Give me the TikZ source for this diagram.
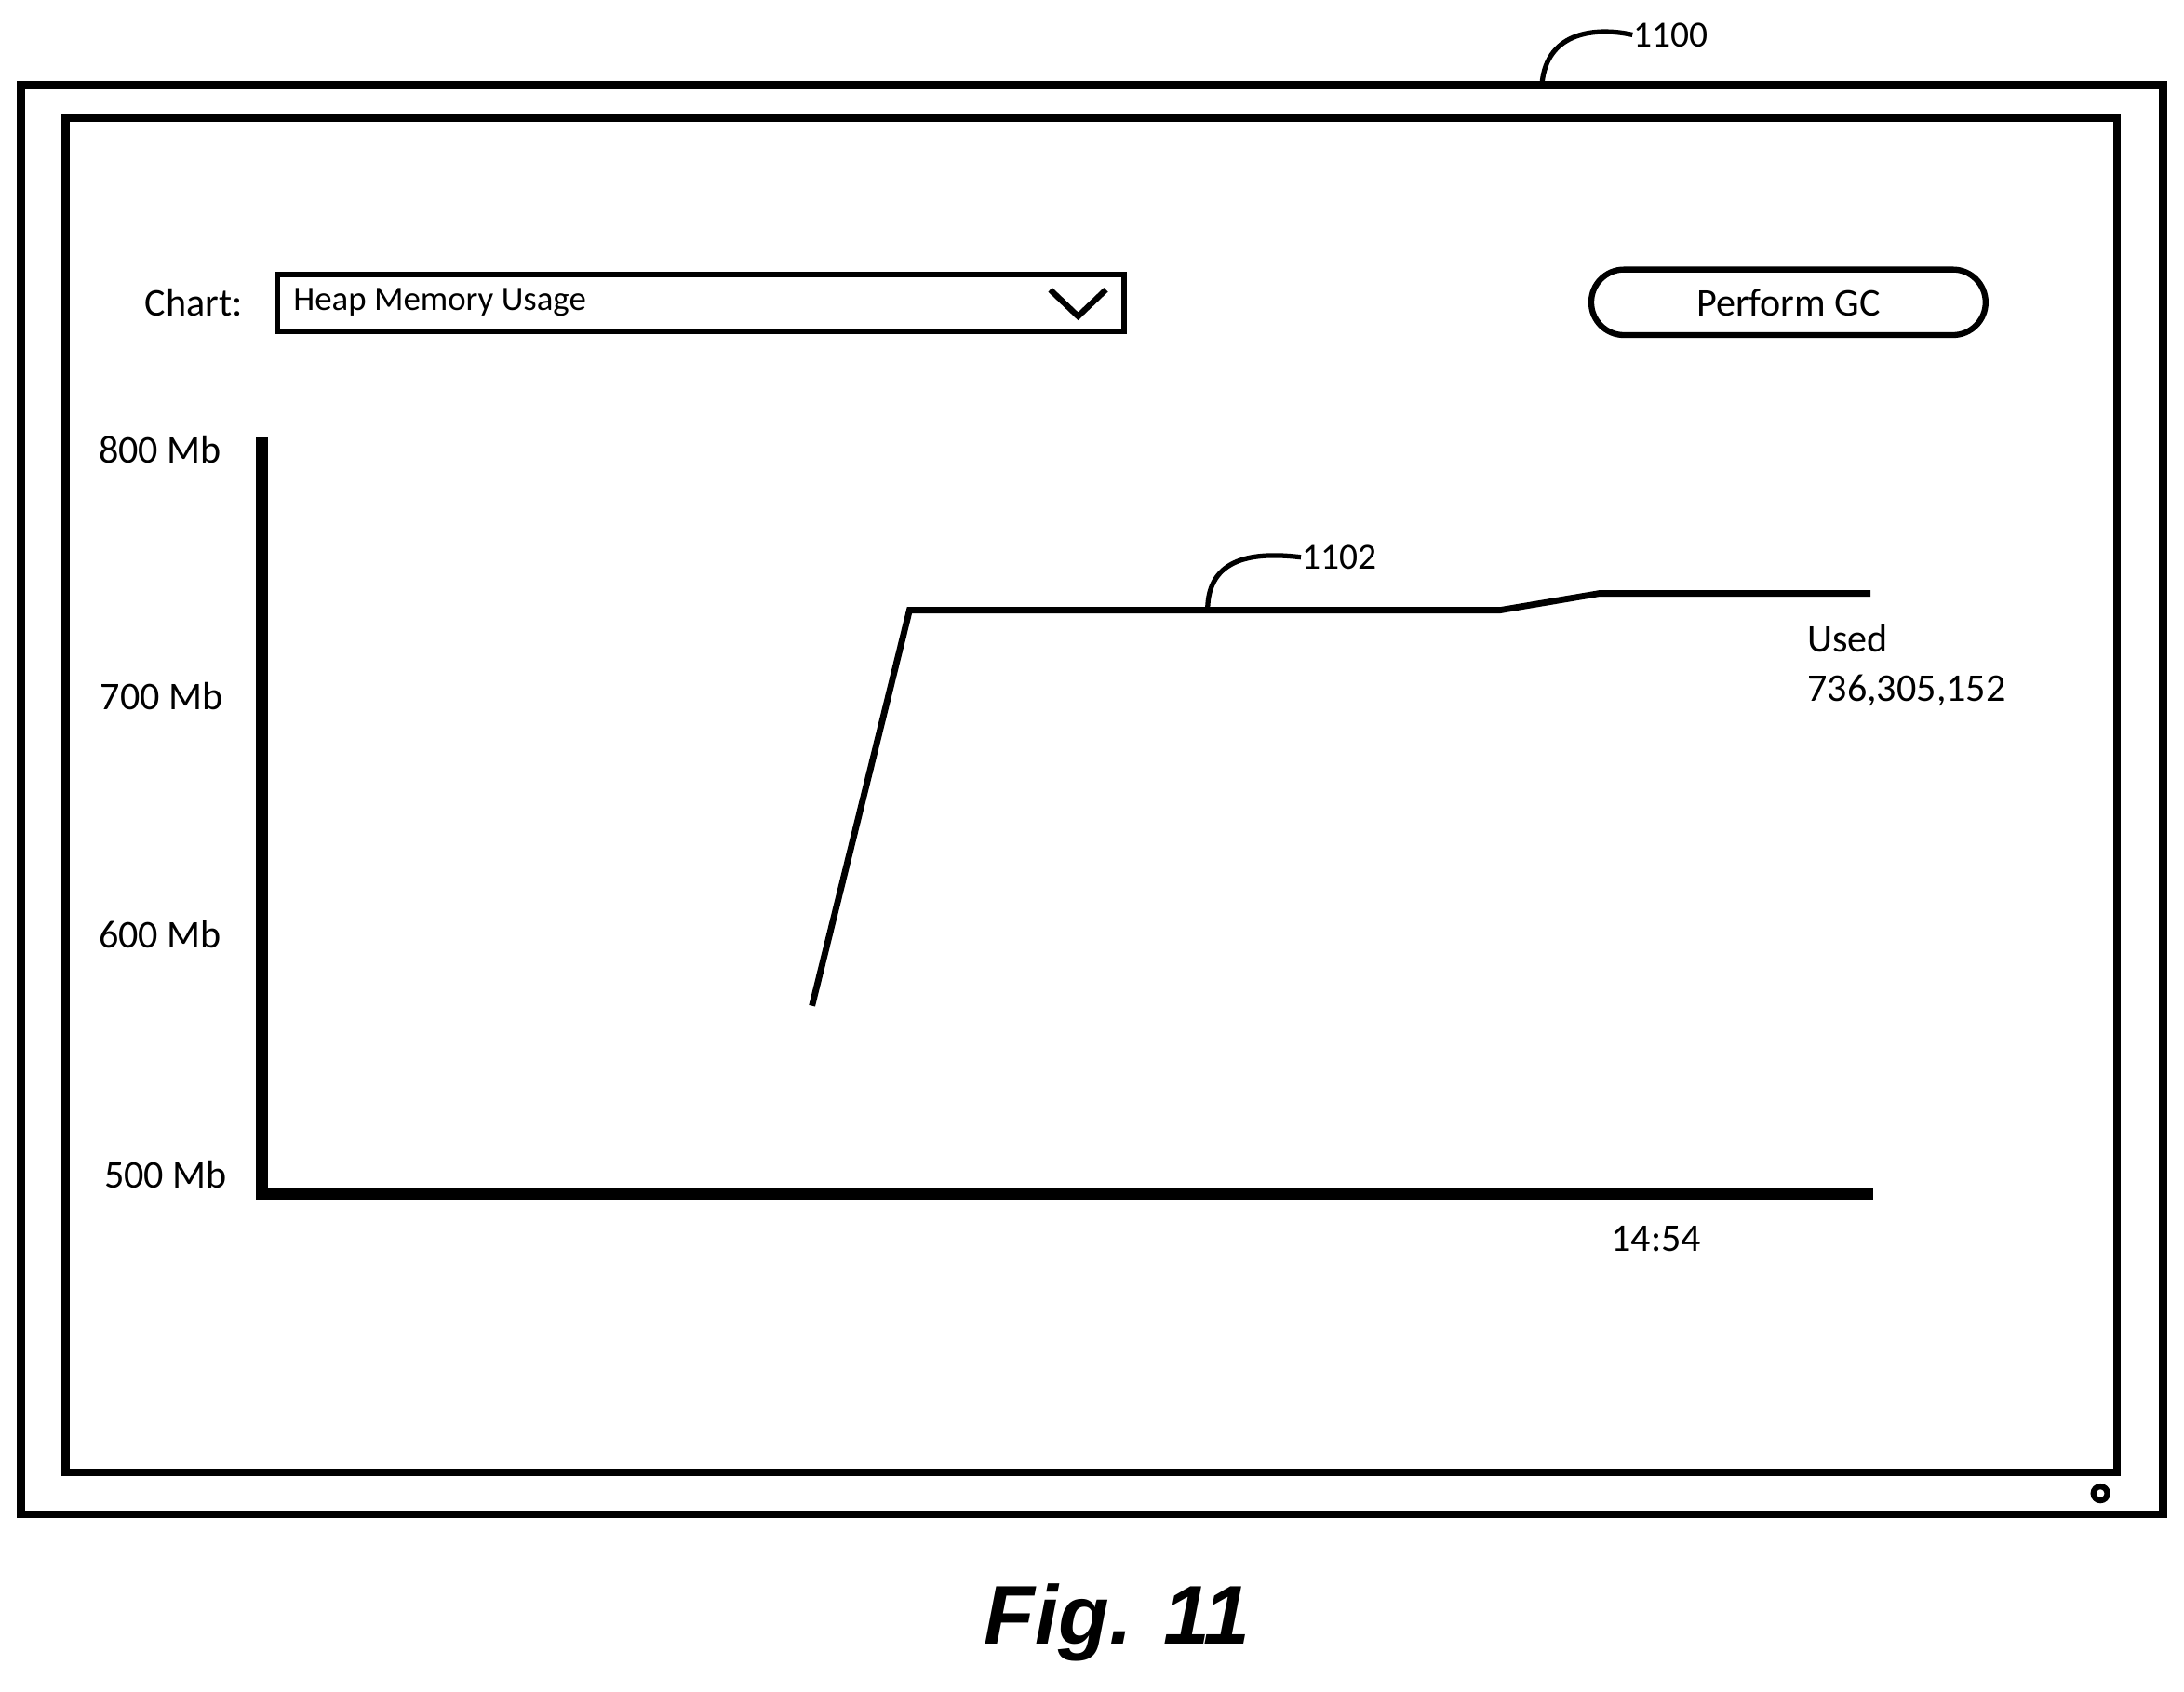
\documentclass[tikz,border=0pt]{standalone}
\usepackage{fontspec}
\setmainfont{Carlito}
\newfontfamily\figfont{Liberation Sans}
\usetikzlibrary{positioning}

\tikzset{
  frame/.style={draw, line width=1.6pt},
  axis/.style={line width=2.4pt},
  curve/.style={line width=1.3pt},
  lbl/.style={font=\fontsize{8}{9.6}\selectfont, inner sep=0pt},
  refnum/.style={font=\fontsize{7.5}{9}\selectfont, inner sep=0pt, anchor=west}
}

\begin{document}
\begin{tikzpicture}[x=0.01cm, y=-0.01cm]
  \useasboundingbox (0,0) rectangle (1568,1214);
  % device frame
  \draw[frame] (15,61) rectangle (1553,1087);
  \draw[frame] (47,85) rectangle (1520,1057);
  \draw[line width=1.2pt] (1508,1072) circle (5);
  \node[refnum] (n1100) at (1172,25) {1100};
  \coordinate (f1100) at (1107,61);
  \draw[line width=1pt] (f1100) .. controls (1110,20) and (1150,20) .. (n1100.west);
  % controls
  \node[lbl] (chart) at (139,217) {Chart:};
  \draw[line width=1.2pt] (199,197) rectangle (807,238);
  \node[lbl, anchor=west, font=\fontsize{7}{8}\selectfont] (heap) at (210,217) {Heap Memory Usage};
  \draw[line width=1.2pt] (754,208) -- (774,227) -- (794,208);
  \node[draw, line width=1.2pt, rounded corners=0.235cm, minimum width=2.83cm, minimum height=0.47cm, lbl] (gc) at (1284,217) {Perform GC};
  % axes
  \coordinate (top) at (188,314);
  \coordinate (origin) at (188,857);
  \coordinate (xend) at (1345,857);
  \draw[axis] (top) -- (origin) -- (xend);
  \node[lbl] (y800) at (115,323) {800 Mb};
  \node[lbl] (y700) at (116,500) {700 Mb};
  \node[lbl] (y600) at (115,671) {600 Mb};
  \node[lbl] (y500) at (119,843) {500 Mb};
  \node[lbl] (time) at (1189,889) {14:54};
  % usage curve
  \draw[curve] (583,722) -- (653,438) -- (1077,438) -- (1148,426) -- (1343,426);
  \node[refnum] (n1102) at (934,400) {1102};
  \coordinate (f1102) at (867,438);
  \draw[line width=1pt] (f1102) .. controls (867,400) and (900,396) .. (n1102.west);
  \node[lbl, anchor=west] (used) at (1297,458) {Used};
  \node[lbl, anchor=west] (val) at (1297,496) {736,305,152};
  % caption
  \node[inner sep=0pt, font=\figfont\fontsize{17}{20}\selectfont\bfseries\itshape] (fig) at (802,1165) {Fig. 11};
\end{tikzpicture}
\end{document}
